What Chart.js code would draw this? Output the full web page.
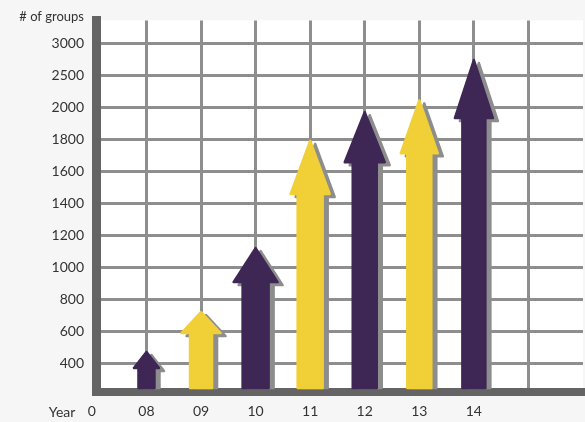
<!DOCTYPE html>
<html>
<head>
<meta charset="utf-8">
<script src="https://cdn.jsdelivr.net/npm/chart.js@4"></script>
<style>
  body { margin: 0; background: #f6f6f6; }
  #wrap { width: 585px; height: 422px; position: relative; }
</style>
</head>
<body>
<div id="wrap"><canvas id="groupsChart"></canvas></div>
<script>
// values
const xTickLabels = ['0', '08', '09', '10', '11', '12', '13', '14', ''];
const years = ['08', '09', '10', '11', '12', '13', '14'];
const groups = [470, 720, 1120, 1790, 1970, 2110, 2740];
const yTickValues = [400, 600, 800, 1000, 1200, 1400, 1600, 1800, 2000, 2500, 3000];
const yTickLabels = ['400', '600', '800', '1000', '1200', '1400', '1600', '1800', '2000', '2500', '3000'];

const purple = '#3e2755';
const yellow = '#f0cf37';
const barColors = [purple, yellow, purple, yellow, purple, yellow, purple];
// shaft width, head width, head height (px)
const arrowShape = [
    [16, 25, 16], [22, 39, 21], [26, 44, 34], [25, 39, 53],
    [24, 40, 50], [24, 37, 53], [23, 38, 58]
];

const Y_MIN = -0.9;
const Y_MAX = 10.72;

// the axis is evenly spaced per tick, so map a value onto the tick index
function toPos(v) {
    const t = yTickValues;
    if (v <= t[0]) return (v - t[0]) / (t[1] - t[0]);
    for (let i = 1; i < t.length; i++) {
        if (v <= t[i]) return i - 1 + (v - t[i - 1]) / (t[i] - t[i - 1]);
    }
    const n = t.length - 1;
    return n + (v - t[n]) / (t[n] - t[n - 1]);
}

const backdrop = {
    id: 'backdrop',
    beforeDraw(chart) {
        const { ctx, chartArea: a } = chart;
        ctx.save();
        ctx.fillStyle = '#ffffff';
        ctx.fillRect(a.left, a.top, a.right - a.left, a.bottom - a.top);
        ctx.restore();
    },
    afterDraw(chart) {
        const { ctx, chartArea: a } = chart;
        ctx.save();
        ctx.fillStyle = '#333333';
        ctx.font = '13px Lato';
        ctx.textAlign = 'right';
        ctx.textBaseline = 'middle';
        ctx.fillText('# of groups', a.left - 12, a.top - 4);
        ctx.font = '14px Lato';
        ctx.textAlign = 'center';
        ctx.fillText('Year', a.left - 34, a.bottom + 20);
        ctx.restore();
    }
};

function arrowPath(ctx, x, tip, bottom, s, dx, dy) {
    const [sw, hw, hh] = s;
    ctx.beginPath();
    ctx.moveTo(x + dx, tip + dy);
    ctx.lineTo(x + hw / 2 + dx, tip + hh + dy);
    ctx.lineTo(x + sw / 2 + dx, tip + hh + dy);
    ctx.lineTo(x + sw / 2 + dx, bottom);
    ctx.lineTo(x - sw / 2 + dx, bottom);
    ctx.lineTo(x - sw / 2 + dx, tip + hh + dy);
    ctx.lineTo(x - hw / 2 + dx, tip + hh + dy);
    ctx.closePath();
}

const arrows = {
    id: 'arrows',
    afterDatasetsDraw(chart) {
        const { ctx, chartArea: a } = chart;
        const meta = chart.getDatasetMeta(0);
        const bottom = a.bottom - 4;
        ctx.save();
        ctx.lineJoin = 'round';
        ctx.lineWidth = 2.5;
        meta.data.forEach((el, i) => {
            const s = arrowShape[i];
            ctx.fillStyle = ctx.strokeStyle = '#8d8d8d';
            arrowPath(ctx, el.x, el.y, bottom, s, 5, 3);
            ctx.fill();
            ctx.stroke();
            ctx.fillStyle = ctx.strokeStyle = barColors[i];
            arrowPath(ctx, el.x, el.y, bottom, s, 0, 0);
            ctx.fill();
            ctx.stroke();
        });
        ctx.restore();
    }
};

const ctx = document.getElementById('groupsChart').getContext('2d');
new Chart(ctx, {
    type: 'bar',
    data: {
        datasets: [{
            label: '# of groups',
            data: years.map((y, i) => ({ x: i + 1, y: toPos(groups[i]) })),
            base: Y_MIN,
            backgroundColor: 'rgba(0,0,0,0)',
            borderWidth: 0
        }]
    },
    options: {
        responsive: true,
        maintainAspectRatio: false,
        animation: false,
        layout: { padding: { top: 20, right: 2, left: 0, bottom: 0 } },
        plugins: {
            legend: { display: false },
            tooltip: { enabled: false }
        },
        scales: {
            x: {
                type: 'linear',
                offset: false,
                min: 0.075,
                max: 9.0,
                afterBuildTicks: (scale) => {
                    scale.ticks = xTickLabels.map((l, i) => ({ value: i }));
                },
                afterFit: (scale) => { scale.height = 30; },
                ticks: {
                    callback: (v, i) => xTickLabels[i],
                    color: '#333333',
                    font: { family: 'Lato', size: 14 },
                    padding: 11,
                    maxRotation: 0,
                    autoSkip: false
                },
                grid: {
                    offset: false,
                    color: (c) => c.index === 0 ? 'rgba(0,0,0,0)' : '#8e8e8e',
                    lineWidth: 3,
                    drawTicks: false
                },
                border: { color: '#646464', width: 8 }
            },
            y: {
                type: 'linear',
                min: Y_MIN,
                max: Y_MAX,
                afterBuildTicks: (scale) => {
                    scale.ticks = yTickLabels.map((l, i) => ({ value: i }));
                },
                afterFit: (scale) => { scale.width = 96; },
                ticks: {
                    callback: (v, i) => yTickLabels[i],
                    color: '#333333',
                    font: { family: 'Lato', size: 14 },
                    padding: 12,
                    autoSkip: false
                },
                grid: {
                    color: '#8e8e8e',
                    lineWidth: 3,
                    drawTicks: false
                },
                border: { color: '#646464', width: 9 }
            }
        }
    },
    plugins: [backdrop, arrows]
});
</script>
</body>
</html>
